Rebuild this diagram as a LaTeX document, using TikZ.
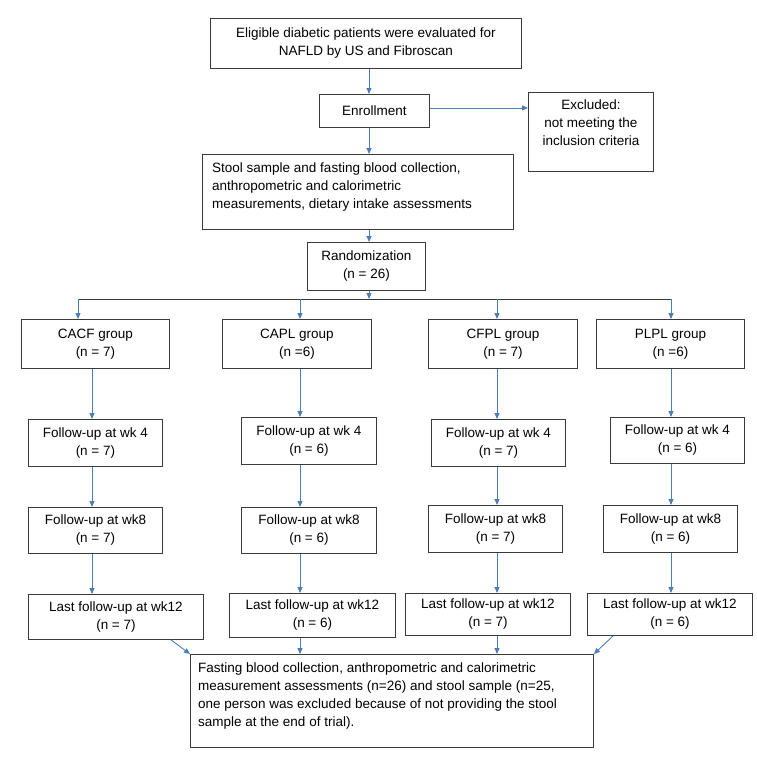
\documentclass[tikz,border=0pt]{standalone}
\usepackage{fontspec}
\setmainfont{Liberation Sans}
\usetikzlibrary{arrows.meta}
\definecolor{arrowblue}{HTML}{4A7EBB}
\definecolor{boxline}{HTML}{3A3A3A}

\begin{document}
\begin{tikzpicture}[x=1pt,y=-1pt,
    every node/.style={font=\fontsize{13.5}{18}\selectfont},
    boxes/.style={draw=boxline, line width=0.9pt, anchor=north west, inner sep=0pt, align=center},
    words/.style={inner sep=0pt, align=center},
    link/.style={draw=arrowblue, line width=0.9pt, -{Triangle[length=6pt,width=5pt]}}]

    \useasboundingbox (0,0) rectangle (756,763);

    \coordinate (mid) at (369,0);
    \coordinate (fork) at (0,299);
    \coordinate (b1) at (78,0);
    \coordinate (c1) at (92,0);
    \coordinate (c2) at (300,0);
    \coordinate (c3) at (497,0);
    \coordinate (c4) at (671,0);
    \coordinate (d1) at (171,0);
    \coordinate (d4) at (613,0);

    \node[boxes,minimum width=311,minimum height=50] (A) at (210,18) {Eligible diabetic patients were evaluated for\\NAFLD by US and Fibroscan};
    \node[boxes,minimum width=110,minimum height=33] (B) at (319,94) {Enrollment};
    \node[boxes,minimum width=125,minimum height=79] (C) at (528,92) {};
    \node[words,anchor=north,yshift=-8pt] (Ct) at (C.north) {Excluded:\\not meeting the\\inclusion criteria};
    \node[boxes,minimum width=311,minimum height=75] (D) at (202,154) {};
    \node[words,anchor=north west,align=left,xshift=10pt,yshift=-9pt] (Dt) at (D.north west) {Stool sample and fasting blood collection,\\anthropometric and calorimetric\\measurements, dietary intake assessments};
    \node[boxes,minimum width=118,minimum height=48] (E) at (307,242) {Randomization\\(n = 26)};

    \node[boxes,minimum width=148,minimum height=49] (G1) at (21,319) {CACF group\\(n = 7)};
    \node[boxes,minimum width=149,minimum height=49] (G2) at (222,319) {CAPL group\\(n =6)};
    \node[boxes,minimum width=149,minimum height=49] (G3) at (428,319) {CFPL group\\(n = 7)};
    \node[boxes,minimum width=148,minimum height=49] (G4) at (596,319) {PLPL group\\(n =6)};

    \node[boxes,minimum width=134,minimum height=47] (F1) at (28,419) {Follow-up at wk 4\\(n = 7)};
    \node[boxes,minimum width=135,minimum height=47] (F2) at (241,417) {Follow-up at wk 4\\(n = 6)};
    \node[boxes,minimum width=134,minimum height=47] (F3) at (431,419) {Follow-up at wk 4\\(n = 7)};
    \node[boxes,minimum width=134,minimum height=46] (F4) at (610,417) {Follow-up at wk 4\\(n = 6)};

    \node[boxes,minimum width=134,minimum height=46] (H1) at (28,507) {Follow-up at wk8\\(n = 7)};
    \node[boxes,minimum width=135,minimum height=46] (H2) at (241,507) {Follow-up at wk8\\(n = 6)};
    \node[boxes,minimum width=134,minimum height=47] (H3) at (428,505) {Follow-up at wk8\\(n = 7)};
    \node[boxes,minimum width=134,minimum height=47] (H4) at (603,505) {Follow-up at wk8\\(n = 6)};

    \node[boxes,minimum width=175,minimum height=45] (L1) at (28,594) {Last follow-up at wk12\\(n = 7)};
    \node[boxes,minimum width=166,minimum height=44] (L2) at (229,593) {Last follow-up at wk12\\(n = 6)};
    \node[boxes,minimum width=165,minimum height=42] (L3) at (405,593) {Last follow-up at wk12\\(n = 7)};
    \node[boxes,minimum width=165,minimum height=42] (L4) at (587,593) {Last follow-up at wk12\\(n = 6)};

    \node[boxes,minimum width=403,minimum height=93] (Z) at (190,654) {};
    \node[words,anchor=north west,align=left,xshift=8pt,yshift=-9pt] (Zt) at (Z.north west) {Fasting blood collection, anthropometric and calorimetric\\measurement assessments (n=26) and stool sample (n=25,\\one person was excluded because of not providing the stool\\sample at the end of trial).};

    \coordinate (out) at ([yshift=3pt]B.east);

    \draw[link] (A.south -| mid) -- (B.north -| mid);
    \draw[link] (out) -- (C.west |- out);
    \draw[link] (B.south -| mid) -- (D.north -| mid);
    \draw[link] (D.south -| mid) -- (E.north -| mid);
    \draw[link] (E.south -| mid) -- (fork -| mid);
    \draw[draw=boxline,line width=0.9pt] (fork -| b1) -- (fork -| c4);

    \draw[link] (fork -| b1) -- (G1.north -| b1);
    \draw[link] (fork -| c2) -- (G2.north -| c2);
    \draw[link] (fork -| c3) -- (G3.north -| c3);
    \draw[link] (fork -| c4) -- (G4.north -| c4);

    \draw[link] (G1.south -| c1) -- (F1.north -| c1);
    \draw[link] (G2.south -| c2) -- (F2.north -| c2);
    \draw[link] (G3.south -| c3) -- (F3.north -| c3);
    \draw[link] (G4.south -| c4) -- (F4.north -| c4);

    \draw[link] (F1.south -| c1) -- (H1.north -| c1);
    \draw[link] (F2.south -| c2) -- (H2.north -| c2);
    \draw[link] (F3.south -| c3) -- (H3.north -| c3);
    \draw[link] (F4.south -| c4) -- (H4.north -| c4);

    \draw[link] (H1.south -| c1) -- (L1.north -| c1);
    \draw[link] (H2.south -| c2) -- (L2.north -| c2);
    \draw[link] (H3.south -| c3) -- (L3.north -| c3);
    \draw[link] (H4.south -| c4) -- (L4.north -| c4);

    \draw[link] (L1.south -| d1) -- (Z.north west);
    \draw[link] (L2.south -| c2) -- (Z.north -| c2);
    \draw[link] (L3.south -| c3) -- (Z.north -| c3);
    \draw[link] (L4.south -| d4) -- (Z.north east);
\end{tikzpicture}
\end{document}
